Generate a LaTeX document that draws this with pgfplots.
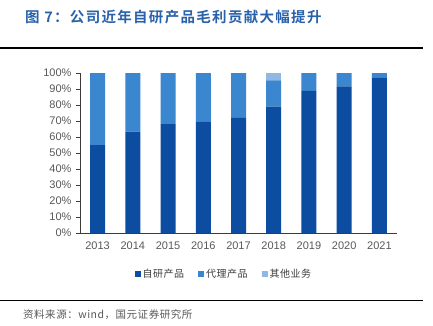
\documentclass[border=0pt]{standalone}
\usepackage{pgfplots}
\pgfplotsset{compat=1.18}
\usepackage{fontspec}
\setmainfont{Liberation Sans}
\newfontfamily\cjk{Noto Sans CJK SC}
\newfontfamily\cjkt[LetterSpace=9]{Noto Sans CJK SC Bold}
\newfontfamily\cjks[LetterSpace=5]{Noto Sans CJK SC}
\definecolor{cDark}{RGB}{12,77,162}
\definecolor{cMid}{RGB}{58,135,207}
\definecolor{cLight}{RGB}{141,185,227}
\definecolor{cTitle}{RGB}{41,98,171}
\definecolor{cAxis}{RGB}{60,60,60}
\definecolor{cTick}{RGB}{89,89,89}
\begin{document}
\begin{tikzpicture}[x=1pt,y=1pt]
\path[use as bounding box] (0,0) rectangle (433,325);
\fill[white] (0,0) rectangle (433,325);
\node[anchor=west,text=cTitle,inner sep=0pt] at (25,308) {\cjkt\fontsize{14.5}{16}\selectfont 图 7：公司近年自研产品毛利贡献大幅提升};
\draw[black,line width=1.2pt] (0,277) -- (423,277);
\draw[black,line width=1.5pt] (0,24.3) -- (423,24.3);
\node[anchor=west,text=cTick,inner sep=0pt] at (23,10) {\cjks\fontsize{10.5}{12}\selectfont 资料来源：wind，国元证券研究所};
\begin{axis}[
  at={(80pt,92pt)}, anchor=south west,
  scale only axis, width=317pt, height=160pt,
  ybar stacked, bar width=15pt,
  xmin=-0.5, xmax=8.5, ymin=0, ymax=100,
  axis x line=bottom, axis y line=left,
  axis line style={-, cAxis, line width=0.9pt},
  xtick={0,...,8},
  xticklabels={2013,2014,2015,2016,2017,2018,2019,2020,2021},
  major x tick style={draw=none},
  extra x ticks={-0.5,0.5,1.5,2.5,3.5,4.5,5.5,6.5,7.5,8.5},
  extra x tick labels={},
  extra x tick style={major tick length=4pt, tick align=outside, tick style={cAxis, line width=0.8pt}},
  ytick={0,10,...,100},
  yticklabels={0\%,10\%,20\%,30\%,40\%,50\%,60\%,70\%,80\%,90\%,100\%},
  y tick style={cAxis, line width=0.8pt},
  major tick length=4pt, tick align=outside,
  /pgf/number format/assume math mode=true,
  tick label style={font=\fontsize{11}{13}\selectfont, text=cTick},
  xticklabel style={yshift=-1pt},
  yticklabel style={xshift=-1pt},
  legend style={at={(0.454,-0.256)}, anchor=center, draw=none, fill=none,
    legend columns=3, font=\cjks\fontsize{10}{12}\selectfont, text=cAxis,
    /tikz/every even column/.append style={column sep=12pt},
    inner sep=0pt},
  legend image code/.code={\fill[#1] (0pt,-3pt) rectangle (6pt,3pt);},
]
\addplot[fill=cDark, draw=none] coordinates {(0,55) (1,63.4) (2,68) (3,69.7) (4,72) (5,79) (6,88.9) (7,91.6) (8,97.2)};
\addplot[fill=cMid, draw=none] coordinates {(0,45) (1,36.6) (2,32) (3,30.3) (4,28) (5,16.2) (6,11.1) (7,8.4) (8,2.8)};
\addplot[fill=cLight, draw=none] coordinates {(0,0) (1,0) (2,0) (3,0) (4,0) (5,4.8) (6,0) (7,0) (8,0)};
\legend{自研产品,代理产品,其他业务}
\end{axis}
\end{tikzpicture}
\end{document}
